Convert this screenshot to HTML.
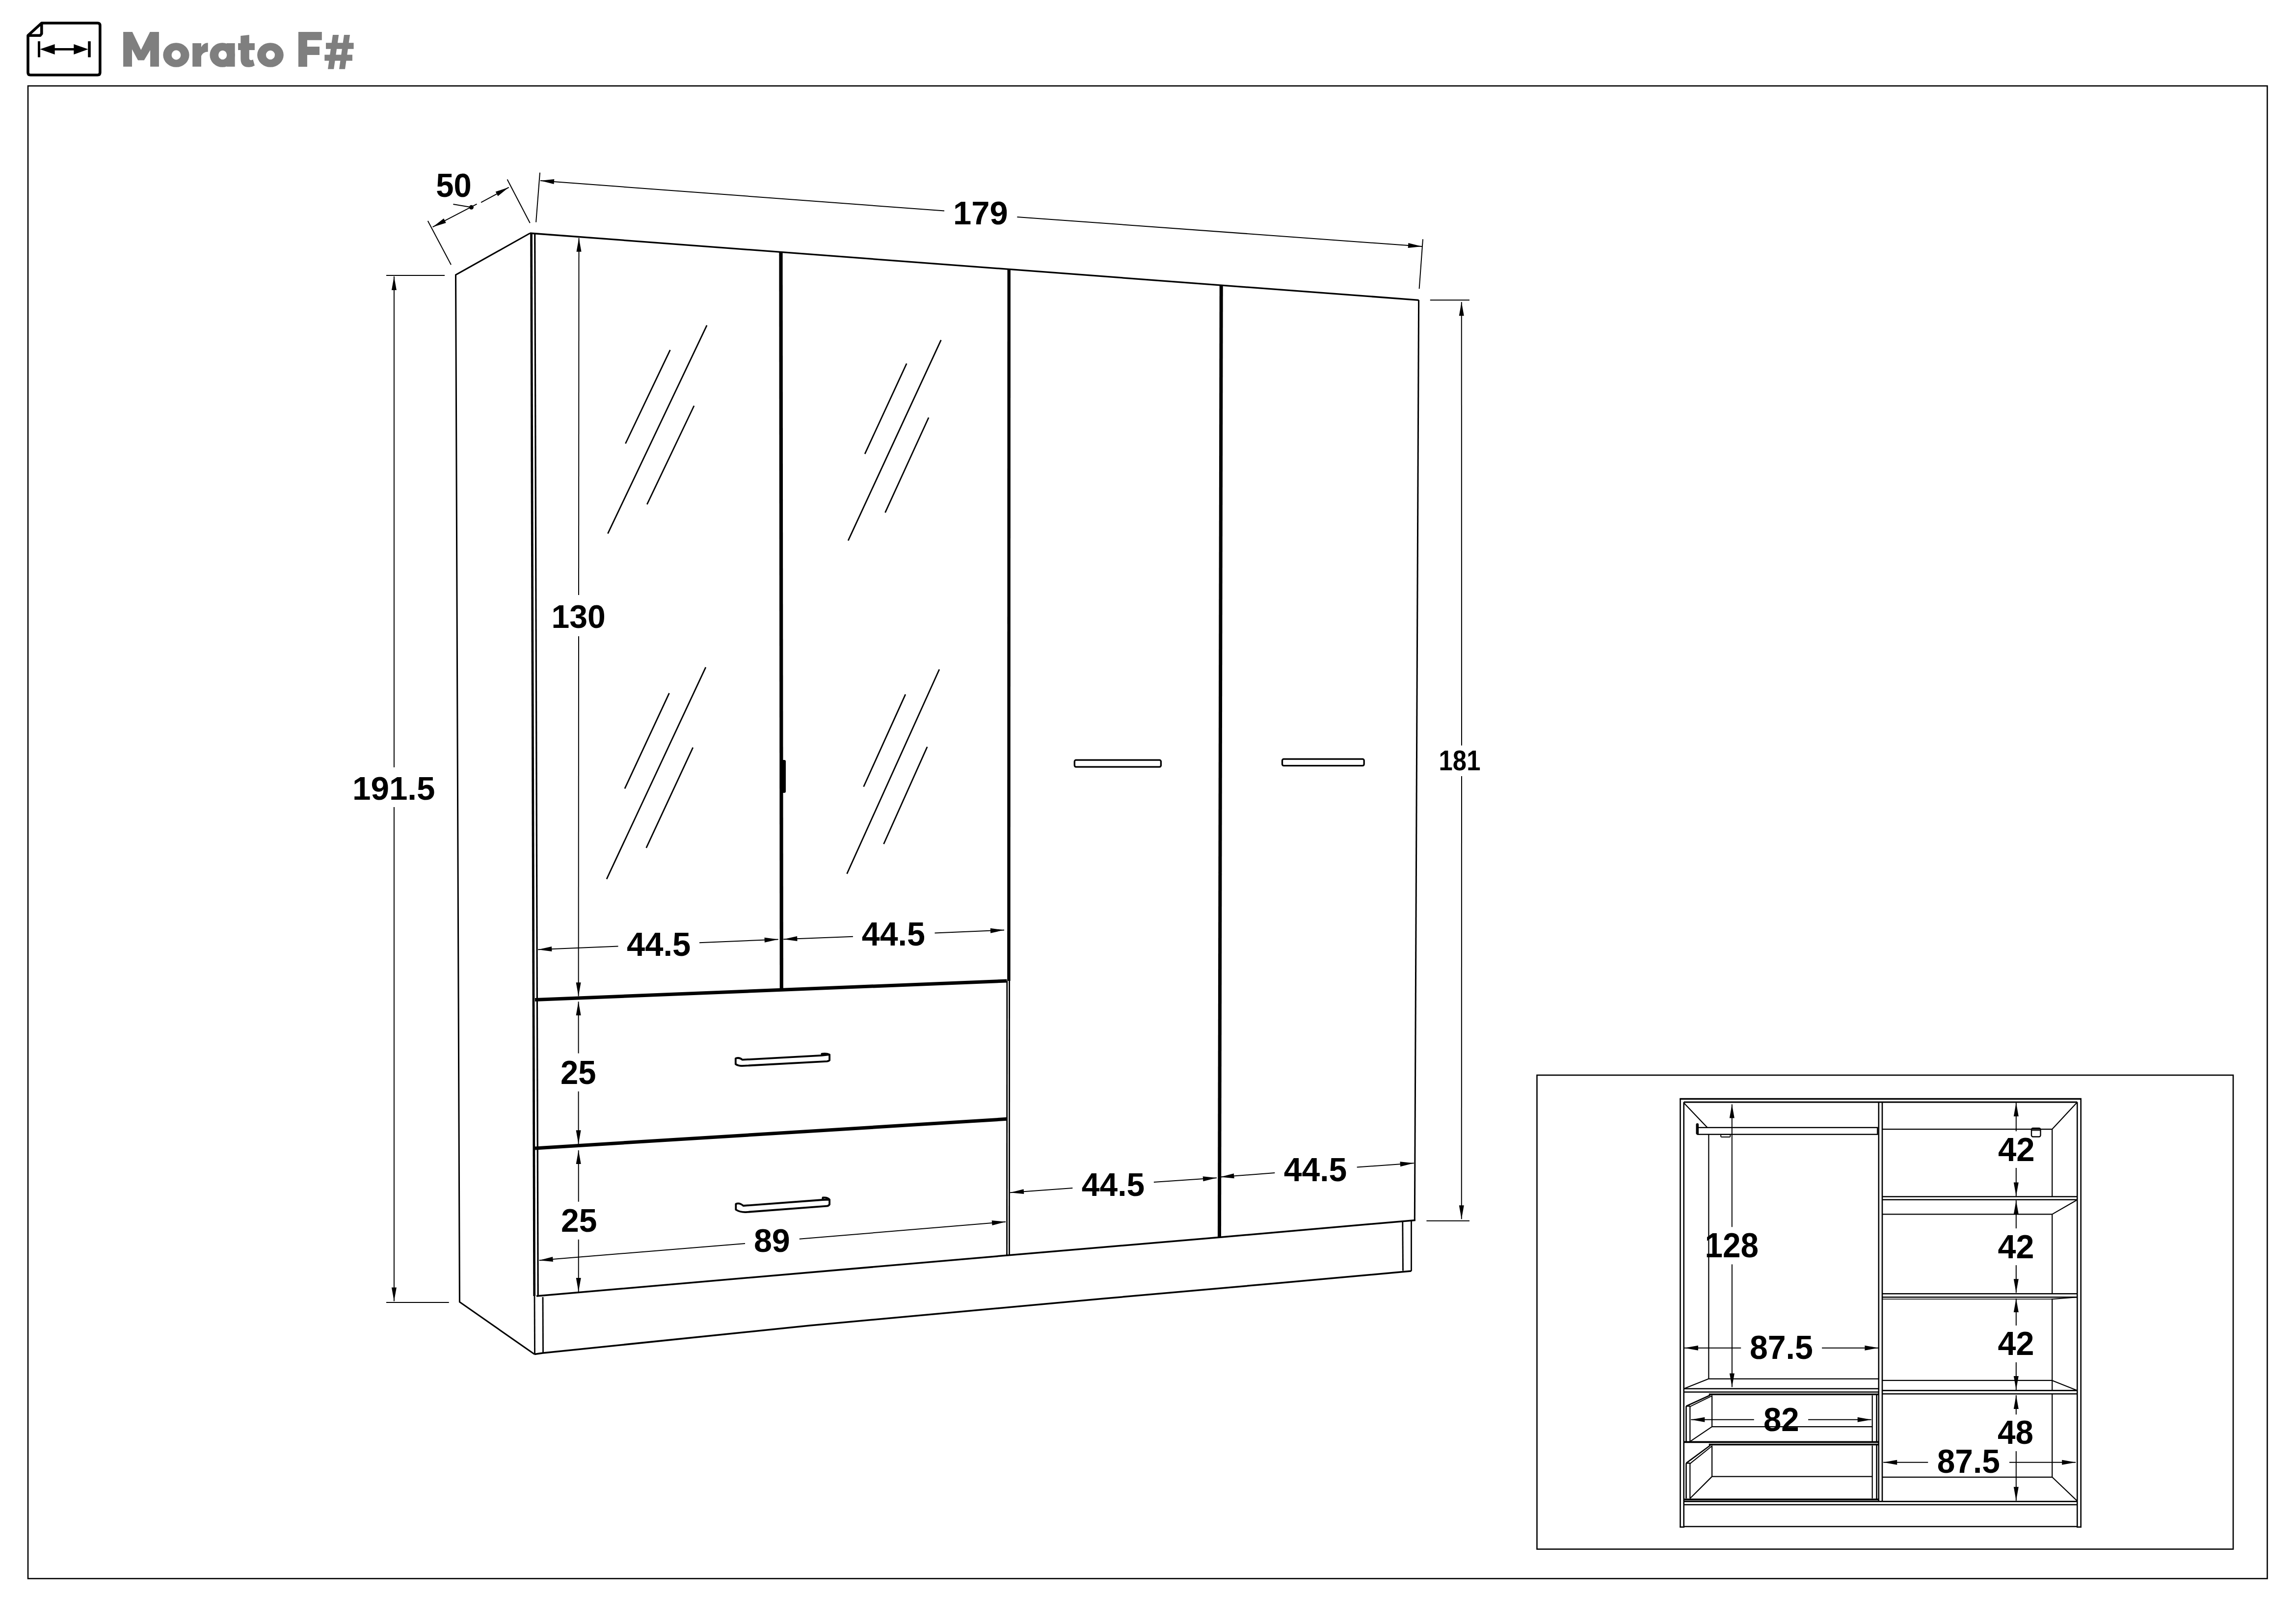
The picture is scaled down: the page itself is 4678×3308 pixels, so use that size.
<!DOCTYPE html>
<html><head><meta charset="utf-8"><title>Morato F#</title>
<style>html,body{margin:0;padding:0;background:#fff;} svg{display:block;}</style></head>
<body><svg width="4678" height="3308" viewBox="0 0 4678 3308">
<rect width="4678" height="3308" fill="#fff"/>
<g stroke="#000" fill="none" stroke-linecap="butt" font-family="'Liberation Sans', sans-serif" font-weight="bold">
<rect x="57.0" y="175.0" width="4562.5" height="3040.5" rx="0" fill="none" stroke-width="2.6"/>
<rect x="3131.5" y="2190.0" width="1418.5" height="965.5" rx="0" fill="none" stroke-width="2.6"/>
<polyline points="1080.0,475.0 928.5,560.0 936.4,2652.0 1089.0,2758.5" fill="none" stroke-width="3"/>
<line x1="1080.0" y1="475.0" x2="2890.6" y2="611.3" stroke-width="3.3"/>
<line x1="2890.6" y1="611.3" x2="2882.3" y2="2486.7" stroke-width="3"/>
<line x1="1082.5" y1="476.0" x2="1088.7" y2="2640.0" stroke-width="4.7"/>
<line x1="1089.7" y1="476.0" x2="1096.2" y2="2640.0" stroke-width="3.2"/>
<line x1="1089.0" y1="2640.0" x2="1089.5" y2="2758.5" stroke-width="2.8"/>
<line x1="1106.0" y1="2642.0" x2="1106.5" y2="2756.0" stroke-width="2.8"/>
<line x1="1591.0" y1="513.0" x2="1592.3" y2="2013.0" stroke-width="7.2"/>
<line x1="2055.7" y1="549.0" x2="2055.4" y2="1998.0" stroke-width="6.4"/>
<line x1="2051.8" y1="1998.0" x2="2051.5" y2="2557.0" stroke-width="2.8"/>
<line x1="2056.6" y1="1998.0" x2="2056.4" y2="2557.0" stroke-width="2.8"/>
<line x1="2488.2" y1="582.0" x2="2484.5" y2="2519.0" stroke-width="7"/>
<line x1="1090.0" y1="2036.5" x2="2051.5" y2="1998.0" stroke-width="7"/>
<line x1="1090.0" y1="2339.0" x2="2051.5" y2="2279.3" stroke-width="7"/>
<polyline points="1093.0,2640.0 2055.7,2556.8 2485.7,2520.2 2883.8,2485.4" fill="none" stroke-width="3.5"/>
<polyline points="1089.0,2758.5 1106.0,2756.0 1650.0,2700.0 2250.0,2645.0 2600.0,2614.0 2875.5,2589.0" fill="none" stroke-width="3.5"/>
<line x1="2857.8" y1="2489.0" x2="2858.5" y2="2588.5" stroke-width="2.8"/>
<line x1="2875.5" y1="2488.0" x2="2875.5" y2="2589.0" stroke-width="2.8"/>
<rect x="1592" y="1548" width="9" height="67" rx="3" fill="#000" stroke="none"/>
<rect x="2189.3" y="1548.2" width="176.1" height="13.9" rx="3" fill="none" stroke-width="3.3"/>
<rect x="2612.5" y="1546.2" width="166.7" height="13.4" rx="3" fill="none" stroke-width="3.3"/>
<path d="M1498.8,2167.6 L1498.8,2156.1 Q1506,2153 1512.4,2158.7 L1674.4,2149.8 L1690.1,2148.2 L1690.1,2159.7 Q1688,2161.5 1684.9,2161.8 L1511.4,2171.2 Q1504,2171 1498.8,2167.6 Z M1674.4,2149.8 L1674.4,2146.6 Q1684,2145.2 1690.1,2148.2" fill="none" stroke-width="3.8" stroke-linejoin="round"/>
<path d="M1499.3,2464 L1499.3,2452.5 Q1506,2449 1514.5,2456 L1676,2444 L1690.1,2443.5 L1690.1,2453.4 Q1688,2456.4 1684.9,2456.6 L1519.7,2469.1 Q1508,2469.5 1499.3,2464 Z M1676,2444 L1676.5,2439.5 Q1686,2438.5 1690.1,2443.5" fill="none" stroke-width="3.8" stroke-linejoin="round"/>
<line x1="1274.4" y1="903.5" x2="1365.4" y2="712.8" stroke-width="2.8"/>
<line x1="1238.4" y1="1086.9" x2="1440.2" y2="662.7" stroke-width="2.8"/>
<line x1="1318.3" y1="1027.4" x2="1414.1" y2="826.5" stroke-width="2.8"/>
<line x1="1272.9" y1="1606.4" x2="1363.5" y2="1411.8" stroke-width="2.8"/>
<line x1="1236.0" y1="1790.6" x2="1437.9" y2="1359.1" stroke-width="2.8"/>
<line x1="1316.7" y1="1727.1" x2="1411.8" y2="1522.7" stroke-width="2.8"/>
<line x1="1762.1" y1="924.7" x2="1847.2" y2="740.5" stroke-width="2.8"/>
<line x1="1728.1" y1="1101.1" x2="1917.3" y2="692.6" stroke-width="2.8"/>
<line x1="1803.5" y1="1044.1" x2="1892.1" y2="850.5" stroke-width="2.8"/>
<line x1="1759.6" y1="1602.5" x2="1844.8" y2="1414.3" stroke-width="2.8"/>
<line x1="1725.6" y1="1779.8" x2="1913.8" y2="1363.5" stroke-width="2.8"/>
<line x1="1800.5" y1="1719.2" x2="1889.2" y2="1521.2" stroke-width="2.8"/>
<line x1="871.7" y1="450.0" x2="919.0" y2="539.2" stroke-width="2"/>
<line x1="1033.5" y1="365.5" x2="1079.8" y2="454.2" stroke-width="2"/>
<line x1="881.6" y1="462.4" x2="971.5" y2="415.6" stroke-width="2"/>
<polygon points="881.6,462.4 904.1,445.0 908.7,453.9" fill="#000" stroke="none"/>
<line x1="1036.7" y1="381.6" x2="980.1" y2="412.4" stroke-width="2"/>
<polygon points="1036.7,381.6 1014.5,399.4 1009.7,390.6" fill="#000" stroke="none"/>
<line x1="923.4" y1="416.0" x2="960.4" y2="422.2" stroke-width="2"/>
<circle cx="960.4" cy="422.2" r="4.5" fill="#000" stroke="none"/>
<text fill="#000" stroke="none" transform="translate(888.20,400.64) scale(0.9597,1)" font-size="67.80">50</text>
<line x1="1100.0" y1="351.7" x2="1092.1" y2="452.7" stroke-width="2"/>
<line x1="2899.0" y1="487.2" x2="2891.6" y2="588.2" stroke-width="2"/>
<line x1="1101.0" y1="368.0" x2="1924.0" y2="429.6" stroke-width="2"/>
<polygon points="1101.0,368.0 1129.3,365.1 1128.5,375.1" fill="#000" stroke="none"/>
<line x1="2897.0" y1="502.0" x2="2072.4" y2="441.9" stroke-width="2"/>
<polygon points="2897.0,502.0 2868.7,505.0 2869.4,495.0" fill="#000" stroke="none"/>
<text fill="#000" stroke="none" transform="translate(1942.09,456.95) scale(1.0119,1)" font-size="66.10">179</text>
<line x1="787.0" y1="560.9" x2="906.0" y2="560.9" stroke-width="2"/>
<line x1="787.0" y1="2652.9" x2="914.7" y2="2652.9" stroke-width="2"/>
<line x1="802.9" y1="563.0" x2="802.9" y2="1563.0" stroke-width="2"/>
<polygon points="802.9,563.0 807.9,591.0 797.9,591.0" fill="#000" stroke="none"/>
<line x1="802.9" y1="2650.5" x2="802.9" y2="1644.0" stroke-width="2"/>
<polygon points="802.9,2650.5 797.9,2622.5 807.9,2622.5" fill="#000" stroke="none"/>
<text fill="#000" stroke="none" transform="translate(717.96,1628.95) scale(1.0194,1)" font-size="66.10">191.5</text>
<line x1="1179.5" y1="484.7" x2="1179.0" y2="1212.0" stroke-width="2"/>
<polygon points="1179.5,484.7 1184.5,512.7 1174.5,512.7" fill="#000" stroke="none"/>
<line x1="1178.6" y1="2029.2" x2="1179.0" y2="1296.0" stroke-width="2"/>
<polygon points="1178.6,2029.2 1173.6,2001.2 1183.6,2001.2" fill="#000" stroke="none"/>
<text fill="#000" stroke="none" transform="translate(1123.44,1279.04) scale(0.9810,1)" font-size="67.37">130</text>
<line x1="2913.8" y1="611.3" x2="2994.0" y2="611.3" stroke-width="2"/>
<line x1="2906.4" y1="2486.7" x2="2994.0" y2="2486.7" stroke-width="2"/>
<line x1="2977.8" y1="615.3" x2="2978.0" y2="1518.6" stroke-width="2"/>
<polygon points="2977.8,615.3 2982.8,643.3 2972.8,643.3" fill="#000" stroke="none"/>
<line x1="2977.8" y1="2483.3" x2="2978.0" y2="1580.9" stroke-width="2"/>
<polygon points="2977.8,2483.3 2972.8,2455.3 2982.8,2455.3" fill="#000" stroke="none"/>
<text fill="#000" stroke="none" transform="translate(2931.60,1568.53) scale(0.8757,1)" font-size="58.05">181</text>
<line x1="1096.2" y1="1934.2" x2="1259.5" y2="1927.6" stroke-width="2"/>
<polygon points="1096.2,1934.2 1124.0,1928.1 1124.4,1938.1" fill="#000" stroke="none"/>
<line x1="1585.7" y1="1913.5" x2="1425.0" y2="1920.2" stroke-width="2"/>
<polygon points="1585.7,1913.5 1557.9,1919.7 1557.5,1909.7" fill="#000" stroke="none"/>
<text fill="#000" stroke="none" transform="translate(1276.99,1947.23) scale(0.9730,1)" font-size="68.79">44.5</text>
<line x1="1596.3" y1="1913.2" x2="1737.9" y2="1907.8" stroke-width="2"/>
<polygon points="1596.3,1913.2 1624.1,1907.1 1624.5,1917.1" fill="#000" stroke="none"/>
<line x1="2046.0" y1="1894.5" x2="1904.5" y2="1900.6" stroke-width="2"/>
<polygon points="2046.0,1894.5 2018.2,1900.7 2017.8,1890.7" fill="#000" stroke="none"/>
<text fill="#000" stroke="none" transform="translate(1755.80,1926.44) scale(0.9810,1)" font-size="67.65">44.5</text>
<line x1="1178.6" y1="2040.3" x2="1178.6" y2="2145.6" stroke-width="2"/>
<polygon points="1178.6,2040.3 1183.6,2068.3 1173.6,2068.3" fill="#000" stroke="none"/>
<line x1="1178.6" y1="2330.3" x2="1178.6" y2="2223.2" stroke-width="2"/>
<polygon points="1178.6,2330.3 1173.6,2302.3 1183.6,2302.3" fill="#000" stroke="none"/>
<text fill="#000" stroke="none" transform="translate(1141.94,2207.74) scale(0.9590,1)" font-size="67.94">25</text>
<line x1="1178.7" y1="2343.1" x2="1178.7" y2="2447.8" stroke-width="2"/>
<polygon points="1178.7,2343.1 1183.7,2371.1 1173.7,2371.1" fill="#000" stroke="none"/>
<line x1="1178.7" y1="2631.0" x2="1178.7" y2="2524.8" stroke-width="2"/>
<polygon points="1178.7,2631.0 1173.7,2603.0 1183.7,2603.0" fill="#000" stroke="none"/>
<text fill="#000" stroke="none" transform="translate(1143.11,2508.74) scale(0.9778,1)" font-size="67.51">25</text>
<line x1="1098.6" y1="2567.2" x2="1518.0" y2="2533.0" stroke-width="2"/>
<polygon points="1098.6,2567.2 1126.1,2559.9 1126.9,2569.9" fill="#000" stroke="none"/>
<line x1="2049.0" y1="2488.7" x2="1628.8" y2="2523.8" stroke-width="2"/>
<polygon points="2049.0,2488.7 2021.5,2496.0 2020.7,2486.0" fill="#000" stroke="none"/>
<text fill="#000" stroke="none" transform="translate(1535.89,2550.34) scale(0.9837,1)" font-size="67.51">89</text>
<line x1="2058.0" y1="2429.2" x2="2185.3" y2="2419.9" stroke-width="2"/>
<polygon points="2058.0,2429.2 2085.6,2422.2 2086.3,2432.1" fill="#000" stroke="none"/>
<line x1="2479.0" y1="2399.3" x2="2350.9" y2="2407.9" stroke-width="2"/>
<polygon points="2479.0,2399.3 2451.4,2406.2 2450.7,2396.2" fill="#000" stroke="none"/>
<text fill="#000" stroke="none" transform="translate(2203.80,2436.04) scale(0.9831,1)" font-size="67.07">44.5</text>
<line x1="2486.4" y1="2397.4" x2="2597.3" y2="2389.1" stroke-width="2"/>
<polygon points="2486.4,2397.4 2513.9,2390.3 2514.7,2400.3" fill="#000" stroke="none"/>
<line x1="2880.8" y1="2369.3" x2="2764.7" y2="2377.5" stroke-width="2"/>
<polygon points="2880.8,2369.3 2853.2,2376.3 2852.5,2366.3" fill="#000" stroke="none"/>
<text fill="#000" stroke="none" transform="translate(2615.80,2406.04) scale(0.9686,1)" font-size="68.08">44.5</text>
<line x1="3423.5" y1="2238.4" x2="3423.5" y2="3110.5" stroke-width="2.6"/>
<line x1="3430.7" y1="2245.0" x2="3430.7" y2="3110.5" stroke-width="2.6"/>
<line x1="4232.3" y1="2245.0" x2="4232.3" y2="3110.5" stroke-width="2.6"/>
<line x1="4239.7" y1="2238.4" x2="4239.7" y2="3110.5" stroke-width="2.6"/>
<line x1="3422.2" y1="3110.5" x2="3432.0" y2="3110.5" stroke-width="2.6"/>
<line x1="4231.0" y1="3110.5" x2="4241.0" y2="3110.5" stroke-width="2.6"/>
<line x1="3422.2" y1="2238.4" x2="4241.0" y2="2238.4" stroke-width="3.12"/>
<line x1="3430.7" y1="2245.0" x2="4232.3" y2="2245.0" stroke-width="3.12"/>
<line x1="3827.8" y1="2245.0" x2="3827.8" y2="3058.6" stroke-width="2.6"/>
<line x1="3835.0" y1="2245.0" x2="3835.0" y2="3058.6" stroke-width="2.6"/>
<line x1="3430.7" y1="3109.5" x2="4232.3" y2="3109.5" stroke-width="2.6"/>
<line x1="3430.7" y1="3058.4" x2="4232.3" y2="3058.4" stroke-width="2.6"/>
<line x1="3430.7" y1="3065.0" x2="4232.3" y2="3065.0" stroke-width="2.6"/>
<line x1="3430.7" y1="2246.5" x2="3478.4" y2="2296.6" stroke-width="2.2"/>
<rect x="3459.0" y="2296.8" width="366.3" height="13.9" rx="0" fill="none" stroke-width="2.4"/>
<rect x="3455.5" y="2288" width="5.5" height="23" rx="2.5" fill="#000" stroke="none"/>
<rect x="3506.0" y="2311.0" width="19.5" height="5.0" rx="2" fill="none" stroke-width="1.8"/>
<line x1="3481.4" y1="2311.0" x2="3481.4" y2="2808.6" stroke-width="2.2"/>
<line x1="3481.4" y1="2808.6" x2="3827.8" y2="2808.6" stroke-width="2.2"/>
<line x1="3430.7" y1="2828.7" x2="3481.4" y2="2808.6" stroke-width="2.2"/>
<line x1="3430.7" y1="2828.7" x2="3827.8" y2="2828.7" stroke-width="2.6"/>
<line x1="3430.7" y1="2835.5" x2="3827.8" y2="2835.5" stroke-width="2.6"/>
<line x1="3481.8" y1="2840.3" x2="3827.0" y2="2840.3" stroke-width="3.6"/>
<line x1="3435.5" y1="2864.2" x2="3484.7" y2="2841.8" stroke-width="2.6"/>
<line x1="3443.3" y1="2865.2" x2="3488.0" y2="2843.3" stroke-width="2.0"/>
<line x1="3435.5" y1="2864.2" x2="3435.5" y2="2936.3" stroke-width="2.6"/>
<line x1="3443.3" y1="2864.2" x2="3443.3" y2="2936.3" stroke-width="2.2"/>
<line x1="3435.5" y1="2864.2" x2="3443.3" y2="2864.2" stroke-width="2.4"/>
<line x1="3488.1" y1="2842.3" x2="3488.1" y2="2906.1" stroke-width="2.2"/>
<line x1="3488.1" y1="2906.1" x2="3814.7" y2="2906.1" stroke-width="2.2"/>
<line x1="3443.3" y1="2936.3" x2="3488.1" y2="2906.1" stroke-width="2.2"/>
<line x1="3431.0" y1="2937.3" x2="3827.0" y2="2937.3" stroke-width="3.8"/>
<line x1="3814.7" y1="2842.3" x2="3814.7" y2="2936.3" stroke-width="2.2"/>
<line x1="3823.6" y1="2840.3" x2="3823.6" y2="2937.3" stroke-width="2.6"/>
<line x1="3481.8" y1="2942.5" x2="3827.0" y2="2942.5" stroke-width="3.6"/>
<line x1="3435.5" y1="2980.4" x2="3484.7" y2="2944.0" stroke-width="2.6"/>
<line x1="3443.3" y1="2981.4" x2="3488.0" y2="2945.5" stroke-width="2.0"/>
<line x1="3435.5" y1="2980.4" x2="3435.5" y2="3052.3" stroke-width="2.6"/>
<line x1="3443.3" y1="2980.4" x2="3443.3" y2="3052.3" stroke-width="2.2"/>
<line x1="3435.5" y1="2980.4" x2="3443.3" y2="2980.4" stroke-width="2.4"/>
<line x1="3488.1" y1="2944.5" x2="3488.1" y2="3007.6" stroke-width="2.2"/>
<line x1="3488.1" y1="3007.6" x2="3814.7" y2="3007.6" stroke-width="2.2"/>
<line x1="3443.3" y1="3052.3" x2="3488.1" y2="3007.6" stroke-width="2.2"/>
<line x1="3431.0" y1="3054.3" x2="3827.0" y2="3054.3" stroke-width="3.8"/>
<line x1="3814.7" y1="2944.5" x2="3814.7" y2="3052.3" stroke-width="2.2"/>
<line x1="3823.6" y1="2942.5" x2="3823.6" y2="3054.3" stroke-width="2.6"/>
<line x1="3835.0" y1="2300.1" x2="4181.2" y2="2300.1" stroke-width="2.2"/>
<line x1="4181.2" y1="2300.1" x2="4181.2" y2="2437.5" stroke-width="2.2"/>
<line x1="4181.2" y1="2473.4" x2="4181.2" y2="2635.0" stroke-width="2.2"/>
<line x1="4181.2" y1="2645.0" x2="4181.2" y2="2832.4" stroke-width="2.2"/>
<line x1="4181.2" y1="2839.2" x2="4181.2" y2="3008.8" stroke-width="2.2"/>
<line x1="3835.0" y1="3008.8" x2="4181.2" y2="3008.8" stroke-width="2.2"/>
<line x1="4181.2" y1="2300.1" x2="4231.5" y2="2246.0" stroke-width="2.2"/>
<line x1="3835.0" y1="2437.5" x2="4232.3" y2="2437.5" stroke-width="2.6"/>
<line x1="3835.0" y1="2443.8" x2="4232.3" y2="2443.8" stroke-width="2.6"/>
<line x1="3835.0" y1="2473.4" x2="4181.2" y2="2473.4" stroke-width="2.2"/>
<line x1="4181.2" y1="2473.4" x2="4230.5" y2="2445.0" stroke-width="2.2"/>
<line x1="3835.0" y1="2635.2" x2="4232.3" y2="2635.2" stroke-width="2.6"/>
<line x1="3835.0" y1="2642.3" x2="4232.3" y2="2642.3" stroke-width="2.6"/>
<line x1="4181.0" y1="2646.3" x2="4232.0" y2="2642.3" stroke-width="2.0"/>
<line x1="3835.0" y1="2646.3" x2="4181.0" y2="2646.3" stroke-width="1.6"/>
<line x1="3835.0" y1="2811.9" x2="4181.2" y2="2811.9" stroke-width="2.2"/>
<line x1="4181.2" y1="2811.9" x2="4232.0" y2="2832.3" stroke-width="2.2"/>
<line x1="3835.0" y1="2832.4" x2="4232.3" y2="2832.4" stroke-width="2.6"/>
<line x1="3835.0" y1="2839.2" x2="4232.3" y2="2839.2" stroke-width="2.6"/>
<line x1="4181.2" y1="3008.8" x2="4231.5" y2="3056.7" stroke-width="2.2"/>
<rect x="4139.0" y="2298.0" width="18.5" height="17.5" rx="3" fill="none" stroke-width="2.4"/>
<line x1="4139.0" y1="2302.5" x2="4157.5" y2="2302.5" stroke-width="1.8"/>
<line x1="3528.8" y1="2249.4" x2="3528.8" y2="2499.3" stroke-width="2"/>
<polygon points="3528.8,2249.4 3533.8,2277.4 3523.8,2277.4" fill="#000" stroke="none"/>
<line x1="3528.9" y1="2825.4" x2="3528.9" y2="2575.4" stroke-width="2"/>
<polygon points="3528.9,2825.4 3523.9,2797.4 3533.9,2797.4" fill="#000" stroke="none"/>
<text fill="#000" stroke="none" transform="translate(3473.46,2560.72) scale(0.9392,1)" font-size="69.91">128</text>
<line x1="3431.9" y1="2745.7" x2="3547.2" y2="2745.7" stroke-width="2"/>
<polygon points="3431.9,2745.7 3459.9,2740.7 3459.9,2750.7" fill="#000" stroke="none"/>
<line x1="3827.4" y1="2745.7" x2="3712.1" y2="2745.7" stroke-width="2"/>
<polygon points="3827.4,2745.7 3799.4,2750.7 3799.4,2740.7" fill="#000" stroke="none"/>
<text fill="#000" stroke="none" transform="translate(3564.90,2768.33) scale(0.9632,1)" font-size="68.78">87.5</text>
<line x1="3445.3" y1="2891.8" x2="3573.8" y2="2891.8" stroke-width="2"/>
<polygon points="3445.3,2891.8 3473.3,2886.8 3473.3,2896.8" fill="#000" stroke="none"/>
<line x1="3812.7" y1="2891.8" x2="3684.1" y2="2891.8" stroke-width="2"/>
<polygon points="3812.7,2891.8 3784.7,2896.8 3784.7,2886.8" fill="#000" stroke="none"/>
<text fill="#000" stroke="none" transform="translate(3592.93,2914.73) scale(0.9580,1)" font-size="68.22">82</text>
<line x1="4107.8" y1="2245.9" x2="4107.8" y2="2304.3" stroke-width="2"/>
<polygon points="4107.8,2245.9 4112.8,2273.9 4102.8,2273.9" fill="#000" stroke="none"/>
<line x1="4107.8" y1="2436.6" x2="4107.8" y2="2379.0" stroke-width="2"/>
<polygon points="4107.8,2436.6 4102.8,2408.6 4112.8,2408.6" fill="#000" stroke="none"/>
<text fill="#000" stroke="none" transform="translate(4070.98,2365.00) scale(0.9901,1)" font-size="67.74">42</text>
<line x1="4107.8" y1="2445.2" x2="4107.8" y2="2502.2" stroke-width="2"/>
<polygon points="4107.8,2445.2 4112.8,2473.2 4102.8,2473.2" fill="#000" stroke="none"/>
<line x1="4107.8" y1="2633.3" x2="4107.8" y2="2577.1" stroke-width="2"/>
<polygon points="4107.8,2633.3 4102.8,2605.3 4112.8,2605.3" fill="#000" stroke="none"/>
<text fill="#000" stroke="none" transform="translate(4070.59,2563.10) scale(0.9660,1)" font-size="68.74">42</text>
<line x1="4107.8" y1="2645.0" x2="4107.8" y2="2700.0" stroke-width="2"/>
<polygon points="4107.8,2645.0 4112.8,2673.0 4102.8,2673.0" fill="#000" stroke="none"/>
<line x1="4107.8" y1="2831.0" x2="4107.8" y2="2774.9" stroke-width="2"/>
<polygon points="4107.8,2831.0 4102.8,2803.0 4112.8,2803.0" fill="#000" stroke="none"/>
<text fill="#000" stroke="none" transform="translate(4070.59,2760.40) scale(0.9762,1)" font-size="68.03">42</text>
<line x1="4107.8" y1="2842.0" x2="4107.8" y2="2881.3" stroke-width="2"/>
<polygon points="4107.8,2842.0 4112.8,2870.0 4102.8,2870.0" fill="#000" stroke="none"/>
<line x1="4107.8" y1="3056.7" x2="4107.8" y2="2956.0" stroke-width="2"/>
<polygon points="4107.8,3056.7 4102.8,3028.7 4112.8,3028.7" fill="#000" stroke="none"/>
<text fill="#000" stroke="none" transform="translate(4070.01,2941.04) scale(0.9702,1)" font-size="67.65">48</text>
<line x1="3837.2" y1="2978.7" x2="3928.3" y2="2978.7" stroke-width="2"/>
<polygon points="3837.2,2978.7 3865.2,2973.7 3865.2,2983.7" fill="#000" stroke="none"/>
<line x1="4229.2" y1="2978.7" x2="4094.0" y2="2978.7" stroke-width="2"/>
<polygon points="4229.2,2978.7 4201.2,2983.7 4201.2,2973.7" fill="#000" stroke="none"/>
<text fill="#000" stroke="none" transform="translate(3946.71,3000.44) scale(0.9730,1)" font-size="67.65">87.5</text>
<path d="M84.8,47 L198.8,47 Q203.8,47 203.8,52 L203.8,147.8 Q203.8,152.8 198.8,152.8 L62,152.8 Q57,152.8 57,147.8 L57,72.2 Z M84.8,47 L57,72.2 M84.8,47 L84.8,68.8 L82,72.2 L57,72.2" fill="none" stroke="#000" stroke-width="5.6" stroke-linejoin="round"/>
<rect x="77" y="84.1" width="5" height="32.5" fill="#000" stroke="none"/>
<rect x="179.2" y="84.1" width="5.6" height="32.5" fill="#000" stroke="none"/>
<rect x="100" y="98" width="60" height="4.7" fill="#000" stroke="none"/>
<polygon points="81.4,100.3 111.6,89.9 111.6,111" fill="#000" stroke="none"/>
<polygon points="179.7,100.3 150.3,89.9 150.3,111" fill="#000" stroke="none"/>
<g fill="#7f7f7f" stroke="none"><path d="M251.1,65 L269.6,65 L287.3,101.8 L305.6,65 L323.9,65 L323.9,135.8 L306.1,135.8 L306.1,102 L293.6,122.7 L281.1,122.7 L269,100.2 L269,135.8 L251.1,135.8 Z"/><path fill-rule="evenodd" d="M332.3,112 a26.65,24.8 0 1,0 53.3,0 a26.65,24.8 0 1,0 -53.3,0 Z M349.55,112 a9.4,9.7 0 1,0 18.8,0 a9.4,9.7 0 1,0 -18.8,0 Z"/><path d="M392.2,88 L410,88 L410,96 Q414.5,87.2 423.7,87.2 L423.7,105.5 Q413.5,105.5 410,114 L410,135.8 L392.2,135.8 Z"/><ellipse cx="453" cy="112" rx="25.6" ry="24.8"/><rect x="461.9" y="88" width="16.7" height="47.8"/><ellipse cx="453.6" cy="112" rx="8.6" ry="9.2" fill="#fff"/><path d="M490.3,73 L507.8,70.9 L507.8,88.1 L518.9,88.1 L518.9,101.9 L507.8,101.9 L507.8,119 Q507.8,122.5 511.5,122.5 Q513.5,122.5 515.5,121.2 L518.9,133.5 Q514,136.8 506,136.8 Q490.3,136.8 490.3,119.5 L490.3,101.9 L485.1,101.9 L485.1,88.1 L490.3,88.1 Z"/><path fill-rule="evenodd" d="M524.1,112 a26.85,24.8 0 1,0 53.7,0 a26.85,24.8 0 1,0 -53.7,0 Z M541.9000000000001,112 a9.05,9.3 0 1,0 18.1,0 a9.05,9.3 0 1,0 -18.1,0 Z"/><path d="M607.9,64.9 L655.8,64.9 L655.8,81.8 L625.9,81.8 L625.9,95.1 L651,95.1 L651,111.9 L625.9,111.9 L625.9,135.9 L607.9,135.9 Z"/><path d="M664,87.2 L720.6,87.2 L720.6,99.7 L664,99.7 Z M661.3,111.4 L717.9,111.4 L717.9,123.7 L661.3,123.7 Z M678,70.9 L690.2,70.9 L680.1,140.8 L668,140.8 Z M701,70.9 L713,70.9 L703,140.8 L691,140.8 Z"/></g>
</g></svg></body></html>
